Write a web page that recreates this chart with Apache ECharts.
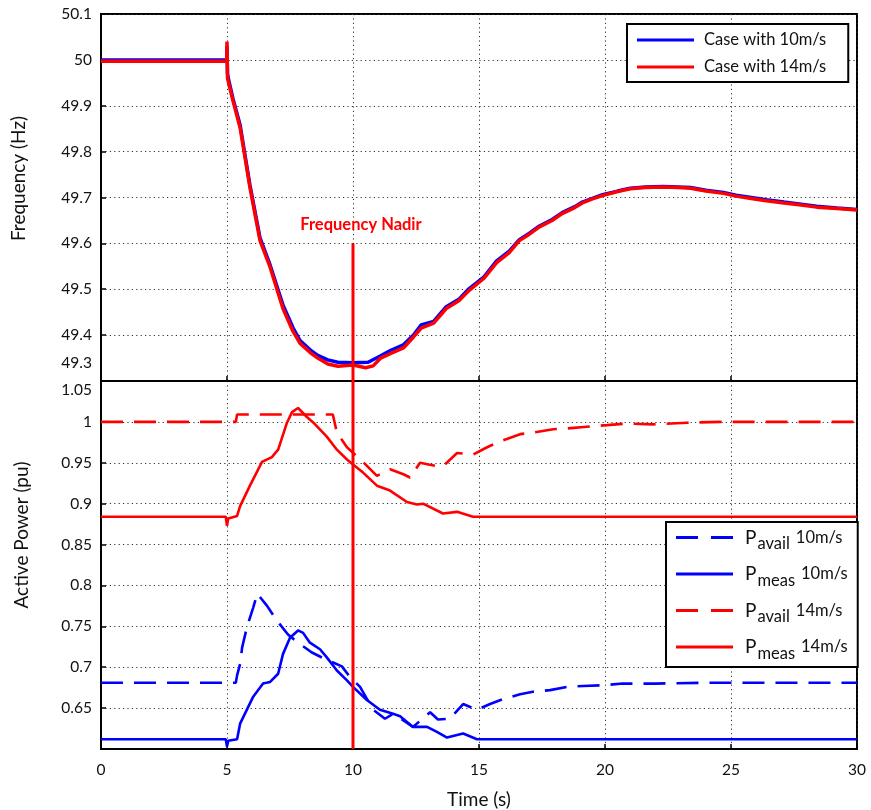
<!DOCTYPE html>
<html>
<head>
<meta charset="utf-8">
<script src="https://cdn.jsdelivr.net/npm/echarts@6/dist/echarts.min.js"></script>
<style>
  html, body { margin: 0; padding: 0; background: #fff; }
  #chart { width: 871px; height: 810px; }
</style>
</head>
<body>
<div id="chart"></div>
<script>
// Grid frequency after the disturbance at t = 5 s
const tFreq10 = [0, 4.99, 5.0, 5.02, 5.05, 5.24, 5.52, 5.91, 6.31, 6.71, 7.22, 7.62, 7.9, 8.3, 8.6, 9.0, 9.4, 10.0, 10.6, 11.1, 11.5, 12.0, 12.4, 12.7, 13.2, 13.7, 14.2, 14.6, 15.2, 15.7, 16.2, 16.6, 17.0, 17.4, 17.9, 18.3, 18.8, 19.1, 19.5, 19.9, 20.5, 21.0, 21.6, 22.3, 22.9, 23.4, 24.0, 24.7, 25.2, 25.8, 26.4, 27.1, 27.7, 28.4, 29.2, 30];
const freq10 = [50.0, 50.0, 50.03, 49.97, 49.96, 49.915, 49.858, 49.727, 49.612, 49.553, 49.466, 49.416, 49.388, 49.368, 49.356, 49.346, 49.341, 49.340, 49.341, 49.355, 49.367, 49.379, 49.400, 49.422, 49.430, 49.462, 49.478, 49.501, 49.527, 49.562, 49.583, 49.608, 49.622, 49.638, 49.652, 49.667, 49.680, 49.690, 49.698, 49.706, 49.714, 49.720, 49.723, 49.724, 49.723, 49.722, 49.716, 49.711, 49.705, 49.700, 49.695, 49.690, 49.686, 49.681, 49.677, 49.674];

const tFreq14 = [0, 4.99, 5.0, 5.02, 5.05, 5.24, 5.52, 5.91, 6.31, 6.71, 7.22, 7.62, 7.9, 8.3, 8.6, 9.0, 9.4, 10.0, 10.5, 10.8, 11.1, 11.5, 12.0, 12.4, 12.7, 13.2, 13.7, 14.2, 14.6, 15.2, 15.7, 16.2, 16.6, 17.0, 17.4, 17.9, 18.3, 18.8, 19.1, 19.5, 19.9, 20.5, 21.0, 21.6, 22.3, 22.9, 23.4, 24.0, 24.7, 25.2, 25.8, 26.4, 27.1, 27.7, 28.4, 29.2, 30];
const freq14 = [49.997, 49.997, 50.04, 49.96, 49.96, 49.91, 49.852, 49.722, 49.606, 49.548, 49.458, 49.408, 49.382, 49.362, 49.350, 49.337, 49.332, 49.335, 49.329, 49.333, 49.350, 49.360, 49.372, 49.396, 49.415, 49.426, 49.458, 49.475, 49.497, 49.524, 49.558, 49.580, 49.606, 49.620, 49.636, 49.650, 49.665, 49.678, 49.688, 49.697, 49.704, 49.713, 49.719, 49.722, 49.723, 49.722, 49.720, 49.714, 49.709, 49.703, 49.698, 49.693, 49.688, 49.684, 49.679, 49.676, 49.673];

// Active power of the wind farm (pu)
const tAvail10 = [0, 5.35, 5.4, 5.52, 5.6, 5.79, 6.04, 6.2, 6.59, 6.98, 7.42, 7.82, 8.37, 8.89, 9.56, 9.88, 10.28, 10.8, 11.27, 11.59, 12.0, 12.38, 13.06, 13.37, 13.85, 14.37, 14.92, 15.44, 15.95, 16.63, 17.14, 17.82, 18.5, 19.13, 19.92, 20.7, 22.0, 24.0, 30];
const pAvail10 = [0.681, 0.681, 0.690, 0.704, 0.724, 0.749, 0.773, 0.790, 0.775, 0.757, 0.740, 0.730, 0.718, 0.710, 0.701, 0.688, 0.676, 0.648, 0.637, 0.643, 0.635, 0.627, 0.645, 0.636, 0.637, 0.655, 0.648, 0.655, 0.661, 0.667, 0.670, 0.672, 0.676, 0.677, 0.678, 0.680, 0.680, 0.681, 0.681];

const tMeas10 = [0, 4.95, 5.0, 5.05, 5.4, 5.52, 6.04, 6.43, 6.71, 7.03, 7.22, 7.5, 7.82, 8.02, 8.29, 8.69, 8.96, 9.36, 9.76, 10.0, 10.55, 11.07, 11.59, 11.87, 12.38, 12.94, 13.33, 13.73, 14.37, 14.92, 30];
const pMeas10 = [0.612, 0.612, 0.603, 0.610, 0.612, 0.631, 0.664, 0.680, 0.682, 0.692, 0.716, 0.736, 0.745, 0.742, 0.730, 0.722, 0.712, 0.696, 0.684, 0.676, 0.660, 0.648, 0.643, 0.640, 0.627, 0.627, 0.621, 0.614, 0.619, 0.612, 0.612];

const tAvail14 = [0, 5.35, 5.4, 9.2, 9.36, 9.76, 10.4, 10.95, 11.47, 12.0, 12.26, 12.66, 13.0, 13.45, 13.65, 14.13, 14.76, 15.32, 15.83, 16.63, 17.14, 17.94, 18.5, 19.28, 20.08, 20.87, 21.9, 23.25, 24.56, 30];
const pAvail14 = [1.0, 1.0, 1.009, 1.009, 0.987, 0.969, 0.951, 0.934, 0.942, 0.936, 0.932, 0.950, 0.948, 0.945, 0.948, 0.962, 0.960, 0.969, 0.976, 0.985, 0.987, 0.991, 0.992, 0.994, 0.996, 0.998, 0.997, 0.999, 1.0, 1.0];

const tMeas14 = [0, 4.95, 5.0, 5.05, 5.4, 5.52, 5.91, 6.39, 6.78, 7.03, 7.38, 7.58, 7.82, 8.17, 8.43, 8.96, 9.36, 9.76, 10.0, 10.4, 10.95, 11.47, 12.14, 12.54, 12.78, 13.57, 14.13, 14.76, 30];
const pMeas14 = [0.884, 0.884, 0.873, 0.882, 0.885, 0.897, 0.922, 0.951, 0.957, 0.966, 0.999, 1.012, 1.017, 1.006, 0.999, 0.982, 0.966, 0.954, 0.948, 0.938, 0.922, 0.916, 0.902, 0.899, 0.900, 0.888, 0.890, 0.884, 0.884];

// Instant of the frequency nadir and the span of its marker line
const nadirTime = 10;
const nadirFreqTop = 49.6;

// Axis ranges and tick steps
const timeTicks = { min: 0, max: 30, step: 5 };
const freqTicks = { min: 49.3, max: 50.1, step: 0.1 };
const powerTicks = { min: 0.6, max: 1.05, step: 0.05 };

const legendTop = ['Case with 10m/s', 'Case with 14m/s'];
const legendBottom = ['Pavail 10m/s', 'Pmeas 10m/s', 'Pavail 14m/s', 'Pmeas 14m/s'];

const zip = (t, v) => t.map((x, i) => [x, v[i]]);
const FONT = 'Lato';
const BLUE = '#0000ff';
const RED = '#ff0000';
const fmt = v => String(parseFloat(v.toFixed(2)));

// legend glyphs: a solid bar and a two-dash bar
const ICON_SOLID = 'path://M0,0H57V3H0Z';
const ICON_DASH = 'path://M0,0H22V3H0Z M35,0H57V3H35Z';

const dotted = { show: true, lineStyle: { color: '#333', width: 1, type: [1.2, 3.2] } };
const labelStyle = { fontFamily: FONT, fontSize: 15.5, color: '#111' };

function xAxisFor(gridIndex, showLabels) {
  return {
    type: 'value', gridIndex,
    min: timeTicks.min, max: timeTicks.max, interval: timeTicks.step,
    axisLine: { show: true, onZero: false, lineStyle: { color: '#000', width: 2 } },
    axisTick: { show: true, inside: true, length: 5, lineStyle: { color: '#000', width: 1.5 } },
    axisLabel: Object.assign({ show: showLabels, margin: 13 }, labelStyle),
    splitLine: dotted,
    name: showLabels ? 'Time (s)' : '',
    nameLocation: 'middle', nameGap: 41,
    nameTextStyle: { fontFamily: FONT, fontSize: 19, color: '#111' }
  };
}

const option = {
  animation: false,
  backgroundColor: '#fff',
  grid: [
    { left: 101, right: 14, top: 14, height: 367, show: true, borderColor: '#000', borderWidth: 2, backgroundColor: 'transparent' },
    { left: 101, right: 14, top: 381, height: 372, show: true, borderColor: '#000', borderWidth: 2, backgroundColor: 'transparent' }
  ],
  xAxis: [xAxisFor(0, false), xAxisFor(1, true)],
  yAxis: [
    {
      type: 'value', gridIndex: 0,
      min: freqTicks.min, max: freqTicks.max, interval: freqTicks.step,
      axisLine: { show: true, lineStyle: { color: '#000', width: 2 } },
      axisTick: { show: true, inside: true, length: 5, lineStyle: { color: '#000', width: 1.5 } },
      axisLabel: Object.assign({
        margin: 9,
        formatter: v => Math.abs(v - freqTicks.min) < 1e-6 ? '{lo|' + fmt(v) + '}' : fmt(v),
        rich: { lo: { fontFamily: FONT, fontSize: 15.5, color: '#111', padding: [0, 0, 36, 0] } }
      }, labelStyle),
      splitLine: dotted
    },
    {
      type: 'value', gridIndex: 1,
      min: powerTicks.min, max: powerTicks.max, interval: powerTicks.step,
      axisLine: { show: true, lineStyle: { color: '#000', width: 2 } },
      axisTick: { show: true, inside: true, length: 5, lineStyle: { color: '#000', width: 1.5 } },
      axisLabel: Object.assign({
        margin: 9,
        showMinLabel: false,
        formatter: v => Math.abs(v - powerTicks.max) < 1e-6 ? '{hi|' + fmt(v) + '}' : fmt(v),
        rich: { hi: { fontFamily: FONT, fontSize: 15.5, color: '#111', padding: [18, 0, 0, 0] } }
      }, labelStyle),
      splitLine: dotted
    }
  ],
  legend: [
    {
      data: legendTop.map(n => ({ name: n, icon: ICON_SOLID })),
      orient: 'vertical',
      left: 627, top: 24,
      padding: [7, 22, 6, 10],
      itemWidth: 59, itemHeight: 3, itemGap: 9,
      borderColor: '#000', borderWidth: 2, borderRadius: 0,
      backgroundColor: '#fff',
      textStyle: { fontFamily: FONT, fontSize: 16.5, color: '#111', lineHeight: 18, padding: [0, 0, 0, 4] }
    },
    {
      data: legendBottom.map(n => ({ name: n, icon: n.startsWith('Pavail') ? ICON_DASH : ICON_SOLID })),
      orient: 'vertical',
      left: 666, top: 522,
      padding: [6, 10, 5, 10],
      itemWidth: 57, itemHeight: 3, itemGap: 12,
      borderColor: '#000', borderWidth: 2, borderRadius: 0,
      backgroundColor: '#fff',
      formatter: name => {
        const parts = name.split(' ');
        const sub = parts[0].slice(1);
        return '{p|P}{s|' + sub + '}{n|' + parts[1] + '}';
      },
      textStyle: {
        fontFamily: FONT, fontSize: 16, color: '#111',
        rich: {
          p: { fontFamily: FONT, fontSize: 19, color: '#111', lineHeight: 30, padding: [0, 0, 0, 7] },
          s: { fontFamily: FONT, fontSize: 16.5, color: '#111', lineHeight: 16, verticalAlign: 'bottom', padding: [0, 6, 0, 1] },
          n: { fontFamily: FONT, fontSize: 16.5, color: '#111', lineHeight: 30 }
        }
      }
    }
  ],
  series: [
    {
      name: 'Case with 10m/s', type: 'line', xAxisIndex: 0, yAxisIndex: 0,
      data: zip(tFreq10, freq10), showSymbol: false, symbol: 'none',
      lineStyle: { color: BLUE, width: 3.5 }, itemStyle: { color: BLUE }
    },
    {
      name: 'Case with 14m/s', type: 'line', xAxisIndex: 0, yAxisIndex: 0,
      data: zip(tFreq14, freq14), showSymbol: false, symbol: 'none',
      lineStyle: { color: RED, width: 3.5 }, itemStyle: { color: RED }
    },
    {
      name: 'Pavail 10m/s', type: 'line', xAxisIndex: 1, yAxisIndex: 1,
      data: zip(tAvail10, pAvail10), showSymbol: false, symbol: 'none',
      lineStyle: { color: BLUE, width: 2.6, type: [22, 11] }, itemStyle: { color: BLUE }
    },
    {
      name: 'Pmeas 10m/s', type: 'line', xAxisIndex: 1, yAxisIndex: 1,
      data: zip(tMeas10, pMeas10), showSymbol: false, symbol: 'none',
      lineStyle: { color: BLUE, width: 2.6 }, itemStyle: { color: BLUE }
    },
    {
      name: 'Pavail 14m/s', type: 'line', xAxisIndex: 1, yAxisIndex: 1,
      data: zip(tAvail14, pAvail14), showSymbol: false, symbol: 'none',
      lineStyle: { color: RED, width: 2.6, type: [22, 11] }, itemStyle: { color: RED }
    },
    {
      name: 'Pmeas 14m/s', type: 'line', xAxisIndex: 1, yAxisIndex: 1,
      data: zip(tMeas14, pMeas14), showSymbol: false, symbol: 'none',
      lineStyle: { color: RED, width: 2.6 }, itemStyle: { color: RED }
    },
    // frequency nadir marker, carried through both panels
    {
      name: 'nadir-top', type: 'line', xAxisIndex: 0, yAxisIndex: 0,
      data: [[nadirTime, nadirFreqTop], [nadirTime, freqTicks.min]], symbol: 'none',
      lineStyle: { color: RED, width: 3 }, z: 5
    },
    {
      name: 'nadir-bottom', type: 'line', xAxisIndex: 1, yAxisIndex: 1,
      data: [[nadirTime, powerTicks.max], [nadirTime, powerTicks.min]], symbol: 'none',
      lineStyle: { color: RED, width: 3 }, z: 5
    }
  ]
};

const chart = echarts.init(document.getElementById('chart'), null, { renderer: 'canvas' });
chart.setOption(option);

// Annotation and axis titles placed from the axes' own pixel mapping
const nadirPx = chart.convertToPixel({ gridIndex: 0 }, [nadirTime, nadirFreqTop]);
const gridTopRect = chart.getModel().getComponent('grid', 0).coordinateSystem.getRect();
const gridBotRect = chart.getModel().getComponent('grid', 1).coordinateSystem.getRect();

chart.setOption({
  graphic: [
    {
      type: 'text', x: nadirPx[0] + 8, y: nadirPx[1] - 19,
      style: { text: 'Frequency Nadir', fill: RED, font: 'bold 16.5px ' + FONT, align: 'center', verticalAlign: 'middle' }
    },
    {
      type: 'text', x: 19, y: gridTopRect.y + gridTopRect.height / 2 - 19, rotation: Math.PI / 2,
      style: { text: 'Frequency (Hz)', fill: '#111', font: '19px ' + FONT, align: 'center', verticalAlign: 'middle' }
    },
    {
      type: 'text', x: 22, y: gridBotRect.y + gridBotRect.height / 2 - 30, rotation: Math.PI / 2,
      style: { text: 'Active Power (pu)', fill: '#111', font: '19px ' + FONT, align: 'center', verticalAlign: 'middle' }
    }
  ]
});
</script>
</body>
</html>
